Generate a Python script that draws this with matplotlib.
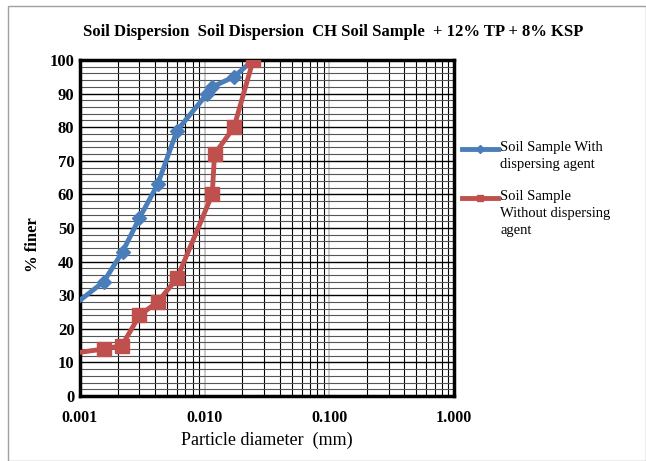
import matplotlib
matplotlib.use("Agg")
import matplotlib.pyplot as plt
from matplotlib.patches import Rectangle
from matplotlib.lines import Line2D
from matplotlib.ticker import FixedLocator, LogLocator, NullFormatter

plt.rcParams['font.family'] = ['Liberation Serif', 'DejaVu Serif']

# data
with_x = [0.001, 0.00155, 0.0022, 0.003, 0.0042, 0.006, 0.0105, 0.0115, 0.0172, 0.0245]
with_y = [28.5, 34, 43, 53, 63, 79, 90, 92, 95, 100]
without_x = [0.001, 0.00156, 0.00217, 0.003, 0.0042, 0.006, 0.0115, 0.012, 0.0172, 0.0245]
without_y = [13, 14, 15, 24, 28, 35, 60, 72, 80, 100]

x_ticks = [0.001, 0.01, 0.1, 1.0]
x_labels = ['0.001', '0.010', '0.100', '1.000']
y_ticks = list(range(0, 101, 10))
labels = ['Soil Sample With\ndispersing agent', 'Soil Sample\nWithout dispersing\nagent']
colors = ['#4a7ebb', '#c0504d']

W, H = 646, 461
fig = plt.figure(figsize=(W / 100, H / 100), dpi=100)
fig.patches.append(Rectangle((8 / W, 0.0), 1 - 8 / W, 1 - 6 / H, transform=fig.transFigure,
                             fill=False, edgecolor='#a0a0a0', linewidth=1))
ax = fig.add_axes([80 / W, 1 - 396 / H, 374 / W, 336 / H])

ax.plot(with_x, with_y, color=colors[0], linewidth=3.5, marker='D', markersize=7.5,
        markevery=list(range(1, len(with_x))), zorder=5)
ax.plot(without_x, without_y, color=colors[1], linewidth=3.5, marker='s', markersize=9.5,
        markevery=list(range(1, len(without_x))), zorder=5)

ax.set_xscale('log')
ax.set_xlim(0.001, 1.0)
ax.set_ylim(0, 100)
ax.xaxis.set_major_locator(FixedLocator(x_ticks))
ax.set_xticklabels(x_labels, fontweight='bold', fontsize=11.5)
ax.xaxis.set_minor_locator(LogLocator(base=10, subs=range(2, 10)))
ax.xaxis.set_minor_formatter(NullFormatter())
ax.set_yticks(y_ticks)
ax.set_yticklabels([str(v) for v in y_ticks], fontweight='bold', fontsize=12)
ax.set_yticks(range(0, 101, 2), minor=True)

ax.grid(which='major', axis='x', color='#c0c0c0', linewidth=1.2)
ax.grid(which='minor', axis='x', color='black', linewidth=0.8)
ax.grid(which='major', axis='y', color='black', linewidth=1.0)
ax.grid(which='minor', axis='y', color='#555555', linewidth=0.8)
ax.tick_params(which='both', length=0)
ax.tick_params(axis='x', pad=10)
ax.tick_params(axis='y', pad=4)
for s in ax.spines.values():
    s.set_linewidth(2.5)
    s.set_color('black')

ax.set_xlabel('Particle diameter  (mm)', fontsize=13)
ax.set_ylabel('% finer', fontsize=12, fontweight='bold')
ax.yaxis.set_label_coords(-0.105, 0.45)
fig.text(333 / W, 1 - 32 / H, 'Soil Dispersion  Soil Dispersion  CH Soil Sample  + 12% TP + 8% KSP',
         ha='center', va='center', fontsize=12, fontweight='bold')

# legend drawn by hand so the key sits beside the first text line
for lab, col, yk, mk, ms in zip(labels, colors, [149, 198], ['D', 's'], [4, 5]):
    fig.add_artist(Line2D([462 / W, 498 / W], [1 - yk / H, 1 - yk / H], color=col,
                          linewidth=3.5, transform=fig.transFigure))
    fig.add_artist(Line2D([480 / W], [1 - yk / H], color=col, marker=mk, markersize=ms,
                          transform=fig.transFigure))
    fig.text(500 / W, 1 - (yk - 8) / H, lab, fontsize=10.5, va='top', ha='left',
             linespacing=1.4)

fig.savefig('out.png', dpi=100)
